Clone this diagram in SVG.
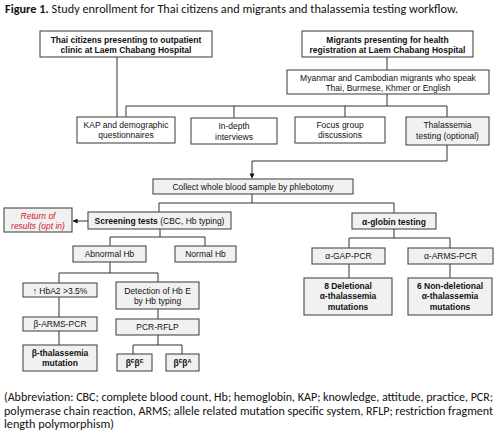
<svg xmlns="http://www.w3.org/2000/svg" width="500" height="437" viewBox="0 0 500 437">
<defs>
<style>
.b{stroke:#4a4a4a;stroke-width:1.1;fill:#fff}
.g{stroke:#4a4a4a;stroke-width:1.1;fill:#f1f1f1}
.t{font-family:"Liberation Sans",Arial,sans-serif;font-size:8.5px;fill:#111;text-anchor:middle}
.tb{font-weight:bold}
.c{stroke:#333;stroke-width:1;fill:none}
.cap{font-family:"Carlito","Liberation Sans",Arial,sans-serif;fill:#111}
</style>
<marker id="ah" viewBox="0 0 6 6" refX="5.5" refY="3" markerWidth="5" markerHeight="5" orient="auto" markerUnits="userSpaceOnUse">
<path d="M0,0 L6,3 L0,6 Z" fill="#111"/>
</marker>
</defs>
<rect width="500" height="437" fill="#fff"/>
<text class="cap" x="5" y="13" font-size="12" textLength="453" lengthAdjust="spacingAndGlyphs"><tspan font-weight="bold">Figure 1.</tspan> Study enrollment for Thai citizens and migrants and thalassemia testing workflow.</text>

<g id="connectors">
<path class="c" d="M117 57V117"/>
<path class="c" d="M387 57V70"/>
<path class="c" d="M387 94V106M126 106H447M126 106V117M234 106V118M345 106V117M447 106V117"/>
<path class="c" d="M447 145V161H252V178" stroke-width="1.6" stroke="#111" marker-end="url(#ah)"/>
<path class="c" d="M252 194V203M159 203H394M159 203V212M394 203V213"/>
<path class="c" d="M88 221H73" marker-end="url(#ah)"/>
<path class="c" d="M160 229V237M110 237H205M110 237V246M205 237V246"/>
<path class="c" d="M110 262V273M59 273H158M59 273V283M158 273V282"/>
<path class="c" d="M59 297V317M59 331V345"/>
<path class="c" d="M158 309V319M158 335V345M133 345H182M133 345V354M182 345V354"/>
<path class="c" d="M394 229V238M349 238H450M349 238V248M450 238V248M349 264V278M450 264V278"/>
</g>

<g id="thai"><rect class="b" x="40" y="31" width="172" height="26"/>
<text class="t tb" x="126" y="42.5">Thai citizens presenting to outpatient</text>
<text class="t tb" x="126" y="52.5">clinic at Laem Chabang Hospital</text></g>

<g id="migrants"><rect class="b" x="302" y="31" width="171" height="26"/>
<text class="t tb" x="387.5" y="42.5">Migrants presenting for health</text>
<text class="t tb" x="387.5" y="52.5">registration at Laem Chabang Hospital</text></g>

<g id="myanmar"><rect class="b" x="287" y="70" width="202" height="24"/>
<text class="t" x="388" y="81">Myanmar and Cambodian migrants who speak</text>
<text class="t" x="388" y="91">Thai, Burmese, Khmer or English</text></g>

<g id="kap"><rect class="b" x="77" y="117" width="98" height="26"/>
<text class="t" x="126" y="128">KAP and demographic</text>
<text class="t" x="126" y="138">questionnaires</text></g>

<g id="indepth"><rect class="b" x="191" y="118" width="86" height="26"/>
<text class="t" x="234" y="129">In-depth</text>
<text class="t" x="234" y="139.5">interviews</text></g>

<g id="focus"><rect class="b" x="295" y="117" width="90" height="26"/>
<text class="t" x="340" y="128">Focus group</text>
<text class="t" x="340" y="138">discussions</text></g>

<g id="thaltest"><rect class="g" x="406" y="117" width="83" height="28"/>
<text class="t" x="447.5" y="128">Thalassemia</text>
<text class="t" x="447.5" y="138.5">testing (optional)</text></g>

<g id="collect"><rect class="g" x="153" y="179" width="200" height="15"/>
<text class="t" x="253" y="189.5">Collect whole blood sample by phlebotomy</text></g>

<g id="screening"><rect class="g" x="88" y="212" width="143" height="17"/>
<text class="t" x="159.5" y="223.5"><tspan font-weight="bold">Screening tests</tspan> (CBC, Hb typing)</text></g>

<g id="return"><rect class="g" x="4" y="208" width="68" height="24"/>
<text class="t" x="38" y="218.5" style="fill:#d0202a;font-style:italic">Return of</text>
<text class="t" x="38" y="228.5" style="fill:#d0202a;font-style:italic">results (opt in)</text></g>

<g id="abnormal"><rect class="g" x="73" y="246" width="73" height="16"/>
<text class="t" x="109.5" y="257">Abnormal Hb</text></g>

<g id="normal"><rect class="g" x="175" y="246" width="61" height="16"/>
<text class="t" x="205.5" y="257">Normal Hb</text></g>

<g id="hba2"><rect class="g" x="23" y="283" width="74" height="14"/>
<text class="t" x="60" y="293.5">↑ HbA2 &gt;3.5%</text></g>

<g id="detection"><rect class="g" x="116" y="282" width="83" height="27"/>
<text class="t" x="157.5" y="293.5">Detection of Hb E</text>
<text class="t" x="157.5" y="304">by Hb typing</text></g>

<g id="barms"><rect class="g" x="23" y="317" width="74" height="14"/>
<text class="t" x="60" y="327">β-ARMS-PCR</text></g>

<g id="bthal"><rect class="g" x="23" y="345" width="74" height="26"/>
<text class="t tb" x="60" y="356">β-thalassemia</text>
<text class="t tb" x="60" y="366">mutation</text></g>

<g id="pcrrflp"><rect class="g" x="116" y="319" width="83" height="16"/>
<text class="t" x="157.5" y="330">PCR-RFLP</text></g>

<g id="bebe"><rect class="g" x="117" y="354" width="35" height="17"/>
<text class="t tb" x="134.5" y="366">β<tspan font-size="5.5" dy="-3.5">E</tspan><tspan dy="3.5">β</tspan><tspan font-size="5.5" dy="-3.5">E</tspan></text></g>

<g id="beba"><rect class="g" x="166" y="354" width="33" height="17"/>
<text class="t tb" x="182.5" y="366">β<tspan font-size="5.5" dy="-3.5">E</tspan><tspan dy="3.5">β</tspan><tspan font-size="5.5" dy="-3.5">A</tspan></text></g>

<g id="alpha"><rect class="g" x="352" y="213" width="84" height="16"/>
<text class="t tb" x="394" y="224.5">α-globin testing</text></g>

<g id="agap"><rect class="g" x="312" y="248" width="73" height="16"/>
<text class="t" x="348.5" y="259">α-GAP-PCR</text></g>

<g id="aarms"><rect class="g" x="408" y="248" width="85" height="16"/>
<text class="t" x="450.5" y="259">α-ARMS-PCR</text></g>

<g id="del8"><rect class="g" x="304" y="278" width="88" height="37"/>
<text class="t tb" x="348" y="289">8 Deletional</text>
<text class="t tb" x="348" y="299">α-thalassemia</text>
<text class="t tb" x="348" y="309.5">mutations</text></g>

<g id="nondel6"><rect class="g" x="408" y="278" width="84" height="37"/>
<text class="t tb" x="450" y="289">6 Non-deletional</text>
<text class="t tb" x="450" y="299">α-thalassemia</text>
<text class="t tb" x="450" y="309.5">mutations</text></g>

<text class="cap" x="4" y="401" font-size="11.5" textLength="489" lengthAdjust="spacingAndGlyphs">(Abbreviation: CBC; complete blood count, Hb; hemoglobin, KAP; knowledge, attitude, practice, PCR;</text>
<text class="cap" x="4" y="414.5" font-size="11.5" textLength="489" lengthAdjust="spacingAndGlyphs">polymerase chain reaction, ARMS; allele related mutation specific system, RFLP; restriction fragment</text>
<text class="cap" x="4" y="428" font-size="11.5" textLength="110" lengthAdjust="spacingAndGlyphs">length polymorphism)</text>
</svg>
